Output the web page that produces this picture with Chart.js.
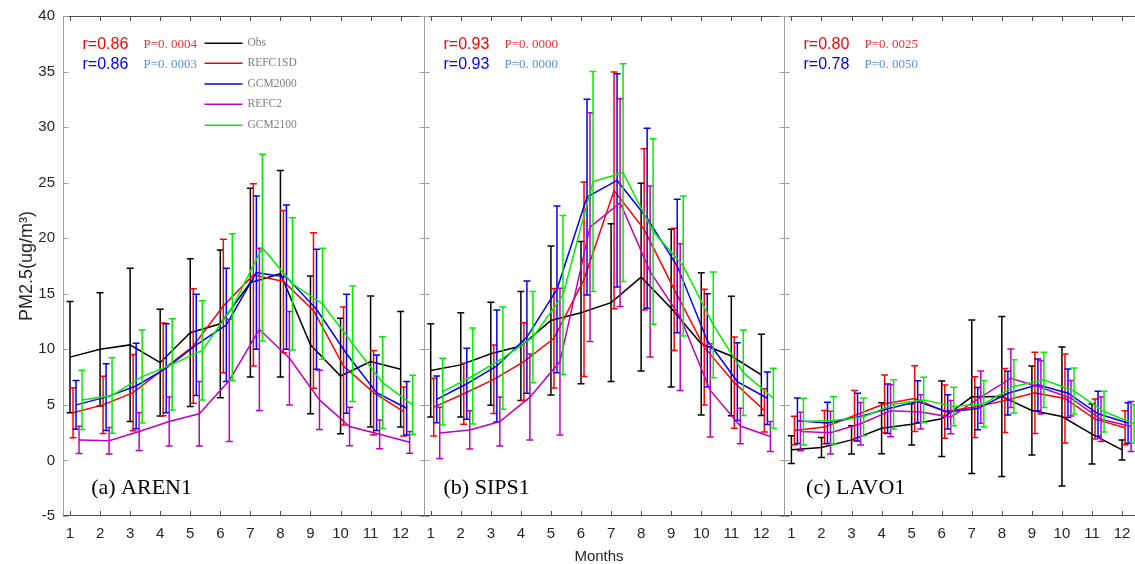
<!DOCTYPE html>
<html><head><meta charset="utf-8">
<script src="https://cdn.jsdelivr.net/npm/chart.js@4.4.0/dist/chart.umd.min.js"></script>
<style>html,body{margin:0;padding:0;background:#fff;}canvas{display:block;}</style>
</head><body>
<canvas id="c" width="1135" height="564"></canvas>
<script>
// ---------- data ----------
const months = [1,2,3,4,5,6,7,8,9,10,11,12];
const seriesNames = ['Obs','REFC1SD','GCM2000','REFC2','GCM2100'];
const panelNames = ['(a) AREN1','(b) SIPS1','(c) LAVO1'];
const yTickValues = [-5,0,5,10,15,20,25,30,35,40];
const rRed = ['r=0.86','r=0.93','r=0.80'];
const pRed = ['P=0. 0004','P=0. 0000','P=0. 0025'];
const rBlue = ['r=0.86','r=0.93','r=0.78'];
const pBlue = ['P=0. 0003','P=0. 0000','P=0. 0050'];

// (a) AREN1 : monthly mean and std
const arenObs      = [9.3,10.0,10.4,8.8,11.5,12.3,16.0,16.8,10.4,7.6,8.9,8.2];
const arenObsSd    = [5.0,5.1,6.9,4.8,6.65,6.65,8.5,9.3,6.2,5.2,5.9,5.2];
const arenRefc1    = [4.3,5.0,6.1,8.2,10.3,13.9,16.7,16.1,13.5,8.5,6.1,4.4];
const arenRefc1Sd  = [2.25,2.57,3.43,4.17,5.16,6.0,8.2,6.4,7.0,5.3,3.8,2.2];
const arenGcm2000  = [5.0,5.7,6.7,8.3,10.4,12.2,16.9,16.5,13.6,9.6,6.1,4.7];
const arenGcm2000Sd= [2.2,3.0,3.85,4.0,4.55,5.1,6.9,6.5,5.4,5.35,3.4,2.4];
const arenRefc2    = [1.85,1.77,2.6,3.5,4.2,7.2,11.8,9.2,5.45,3.05,2.35,1.63];
const arenRefc2Sd  = [1.22,1.2,1.7,2.2,2.9,5.5,7.3,4.2,2.66,1.73,1.3,0.98];
const arenGcm2100  = [5.45,5.85,7.55,8.65,9.9,13.8,19.15,15.9,14.1,10.5,7.0,5.0];
const arenGcm2100Sd= [2.66,3.4,4.18,4.1,4.47,6.6,8.4,5.95,5.0,5.2,4.13,2.66];

// (b) SIPS1
const sipsObs      = [8.1,8.6,9.6,10.3,12.6,13.3,14.2,16.5,13.7,10.5,9.4,7.7];
const sipsObsSd    = [4.2,4.7,4.63,4.9,6.7,6.4,7.1,8.45,7.1,6.4,5.37,3.66];
const sipsRefc1    = [4.8,6.0,7.3,8.9,11.0,16.3,24.3,20.8,15.4,10.2,7.0,4.5];
const sipsRefc1Sd  = [2.6,2.75,3.08,3.5,4.47,8.75,10.65,7.25,5.5,5.2,4.1,1.95];
const sipsGcm2000  = [5.5,6.9,8.5,11.1,15.4,23.7,25.2,21.8,17.5,10.8,7.1,5.6];
const sipsGcm2000Sd= [2.1,3.2,5.05,5.05,7.5,8.8,9.6,8.1,6.0,4.2,3.5,2.36];
const sipsRefc2    = [2.48,2.75,3.5,5.7,8.9,21.0,23.2,17.0,12.9,6.3,3.1,2.15];
const sipsRefc2Sd  = [2.3,1.73,2.2,3.87,6.6,10.3,9.35,7.7,6.6,4.2,1.6,1.35];
const sipsGcm2100  = [6.2,7.6,9.2,11.1,14.9,25.1,25.9,20.6,17.5,12.2,7.9,5.6];
const sipsGcm2100Sd= [3.0,4.33,4.6,4.1,7.15,9.9,9.8,8.35,6.3,4.75,3.85,2.7];

// (c) LAVO1
const lavoObs      = [0.97,1.17,1.85,2.9,3.25,3.75,5.73,5.75,4.5,3.95,2.37,0.95];
const lavoObsSd    = [1.25,0.9,1.28,2.3,1.85,3.4,6.9,7.2,4.0,6.25,2.7,0.9];
const lavoRefc1    = [2.7,3.0,4.05,5.1,5.57,4.4,4.8,5.4,6.08,5.58,3.72,2.95];
const lavoRefc1Sd  = [1.28,1.5,2.25,2.6,2.96,2.4,2.73,2.88,3.65,4.0,1.8,1.53];
const lavoGcm2000  = [3.57,3.38,3.9,4.65,5.3,4.37,4.67,6.05,6.8,6.05,4.2,3.37];
const lavoGcm2000Sd= [2.04,1.85,2.15,2.22,1.88,1.55,1.9,1.97,2.33,2.18,2.03,1.83];
const lavoRefc2    = [2.6,2.5,3.3,4.47,4.37,3.9,5.7,7.4,6.57,5.6,3.7,3.05];
const lavoRefc2Sd  = [1.73,1.92,1.92,2.34,1.55,1.5,2.36,2.63,2.4,1.6,2.0,2.25];
const lavoGcm2100  = [3.5,3.6,3.92,5.05,5.45,4.85,5.1,6.66,7.25,6.25,4.4,3.3];
const lavoGcm2100Sd= [2.1,2.13,1.7,2.22,2.03,1.73,2.1,2.4,2.48,2.06,1.83,1.74];

// ---------- styling / layout ----------
const seriesColors = ['#000000','#ff0000','#0000ff','#c000c0','#00ee00'];
const seriesOffset = [0, 0.1, 0.2, 0.3, 0.4];
const panelSpan = 12;
const xMin = 0.767, xMax = 36.43;
const SANS = '"Liberation Sans", Arial, sans-serif';
const SERIF = '"Liberation Serif", "Times New Roman", serif';

const panelMeans = [
  [arenObs, arenRefc1, arenGcm2000, arenRefc2, arenGcm2100],
  [sipsObs, sipsRefc1, sipsGcm2000, sipsRefc2, sipsGcm2100],
  [lavoObs, lavoRefc1, lavoGcm2000, lavoRefc2, lavoGcm2100]
];
const panelSds = [
  [arenObsSd, arenRefc1Sd, arenGcm2000Sd, arenRefc2Sd, arenGcm2100Sd],
  [sipsObsSd, sipsRefc1Sd, sipsGcm2000Sd, sipsRefc2Sd, sipsGcm2100Sd],
  [lavoObsSd, lavoRefc1Sd, lavoGcm2000Sd, lavoRefc2Sd, lavoGcm2100Sd]
];

const datasets = [];
panelMeans.forEach((series, p) => {
  series.forEach((vals, s) => {
    datasets.push({
      label: seriesNames[s] + ' ' + panelNames[p],
      data: months.map((m, i) => ({x: m + seriesOffset[s] + p * panelSpan, y: vals[i]})),
      errSd: panelSds[p][s],
      borderColor: seriesColors[s],
      backgroundColor: seriesColors[s],
      borderWidth: 1.5,
      pointRadius: 0,
      tension: 0,
      fill: false,
      order: 4 - s
    });
  });
});

const errorBars = {
  id: 'errorBars',
  beforeDatasetDraw(chart, args) {
    const ds = chart.data.datasets[args.index];
    const xs = chart.scales.x, ys = chart.scales.y, a = chart.chartArea, ctx = chart.ctx;
    ctx.save();
    ctx.beginPath(); ctx.rect(a.left, a.top, a.right - a.left, a.bottom - a.top); ctx.clip();
    ctx.strokeStyle = ds.borderColor; ctx.lineWidth = 1.5;
    ctx.beginPath();
    ds.data.forEach((pt, i) => {
      const x = xs.getPixelForValue(pt.x);
      const yT = ys.getPixelForValue(pt.y + ds.errSd[i]);
      const yB = ys.getPixelForValue(pt.y - ds.errSd[i]);
      ctx.moveTo(x, yT); ctx.lineTo(x, yB);
      ctx.moveTo(x - 3.5, yT); ctx.lineTo(x + 3.5, yT);
      ctx.moveTo(x - 3.5, yB); ctx.lineTo(x + 3.5, yB);
    });
    ctx.stroke();
    ctx.restore();
  }
};

const panelDecor = {
  id: 'panelDecor',
  afterDraw(chart) {
    const xs = chart.scales.x, ys = chart.scales.y, a = chart.chartArea, ctx = chart.ctx;
    ctx.save();
    const edges = [0,1,2].map(p => Math.round(xs.getPixelForValue(xMin + p * panelSpan)) + 0.5);
    // frame
    ctx.lineWidth = 1;
    ctx.strokeStyle = '#a0a0a0';
    edges.forEach(e => { ctx.beginPath(); ctx.moveTo(e, a.top); ctx.lineTo(e, a.bottom); ctx.stroke(); });
    ctx.strokeStyle = '#4d4d4d';
    ctx.beginPath();
    ctx.moveTo(a.left, Math.round(a.top) + 0.5); ctx.lineTo(a.right, Math.round(a.top) + 0.5);
    ctx.moveTo(a.left, Math.round(a.bottom) - 0.5); ctx.lineTo(a.right, Math.round(a.bottom) - 0.5);
    ctx.stroke();
    // x tick marks (inward, top and bottom)
    ctx.beginPath();
    [0,1,2].forEach(p => months.forEach(m => {
      const x = Math.round(xs.getPixelForValue(m + p * panelSpan)) + 0.5;
      ctx.moveTo(x, a.bottom); ctx.lineTo(x, a.bottom - 5);
      ctx.moveTo(x, a.top); ctx.lineTo(x, a.top + 5);
    }));
    ctx.stroke();
    // y tick marks on each panel border
    ctx.strokeStyle = '#a0a0a0';
    ctx.beginPath();
    edges.forEach((e, p) => yTickValues.forEach(v => {
      const y = Math.round(ys.getPixelForValue(v)) + 0.5;
      ctx.moveTo(e, y); ctx.lineTo(e + 5, y);
      if (p > 0) { ctx.moveTo(e, y); ctx.lineTo(e - 5, y); }
    }));
    ctx.stroke();

    // annotations
    ctx.textBaseline = 'middle'; ctx.textAlign = 'left';
    const labelShift = [27.7, 19, 21.6];
    edges.forEach((e, p) => {
      ctx.font = '16px ' + SANS;
      ctx.fillStyle = '#ff0000'; ctx.fillText(rRed[p], e + 19, 45);
      ctx.fillStyle = '#0000ff'; ctx.fillText(rBlue[p], e + 19, 65);
      ctx.font = '13px ' + SERIF;
      ctx.fillStyle = '#f03030'; ctx.fillText(pRed[p], e + 80, 45);
      ctx.fillStyle = '#5a8fe6'; ctx.fillText(pBlue[p], e + 80, 65);
      ctx.font = '22px ' + SERIF;
      ctx.fillStyle = '#000000'; ctx.fillText(panelNames[p], e + labelShift[p], 488);
    });
    // legend inside panel (a)
    const legY = [43.3, 63.3, 84, 104.3, 125.3];
    ctx.font = '11.5px ' + SERIF;
    seriesNames.forEach((n, s) => {
      ctx.strokeStyle = seriesColors[s]; ctx.lineWidth = 1.5;
      ctx.beginPath(); ctx.moveTo(edges[0] + 141, legY[s]); ctx.lineTo(edges[0] + 179, legY[s]); ctx.stroke();
      ctx.fillStyle = '#808080'; ctx.fillText(n, edges[0] + 184, legY[s]);
    });
    ctx.restore();
  }
};

new Chart(document.getElementById('c'), {
  type: 'line',
  data: { datasets },
  options: {
    responsive: false,
    animation: false,
    devicePixelRatio: 1,
    layout: { padding: { top: 16, left: 0, right: 0, bottom: 0 } },
    plugins: { legend: { display: false }, tooltip: { enabled: false } },
    scales: {
      x: {
        type: 'linear', min: xMin, max: xMax,
        grid: { display: false, drawTicks: false },
        border: { display: false },
        afterBuildTicks(scale) {
          const t = [];
          [0,1,2].forEach(p => months.forEach(m => t.push({ value: m + p * panelSpan })));
          scale.ticks = t;
        },
        afterFit(scale) { scale.height = 48; scale.paddingLeft = 0; scale.paddingRight = 0; },
        ticks: {
          autoSkip: false, maxRotation: 0, padding: 9, color: '#262626',
          font: { family: SANS, size: 15 },
          callback: (v) => months[Math.round(v - 1) % 12]
        },
        title: { display: true, text: 'Months', color: '#262626',
          font: { family: SANS, size: 15, lineHeight: 1 }, padding: { top: 0, bottom: 0 } }
      },
      y: {
        type: 'linear', min: -5, max: 40,
        grid: { display: false, drawTicks: false },
        border: { display: false },
        afterBuildTicks(scale) { scale.ticks = yTickValues.map(v => ({ value: v })); },
        afterFit(scale) { scale.width = 63; scale.paddingTop = 0; scale.paddingBottom = 0; },
        ticks: { padding: 8, color: '#262626', font: { family: SANS, size: 15 } },
        title: { display: true, text: 'PM2.5(ug/m³)', color: '#262626',
          font: { family: SANS, size: 18, lineHeight: 1.2 }, padding: { top: 16, bottom: 0 } }
      }
    }
  },
  plugins: [errorBars, panelDecor]
});
</script>
</body></html>
